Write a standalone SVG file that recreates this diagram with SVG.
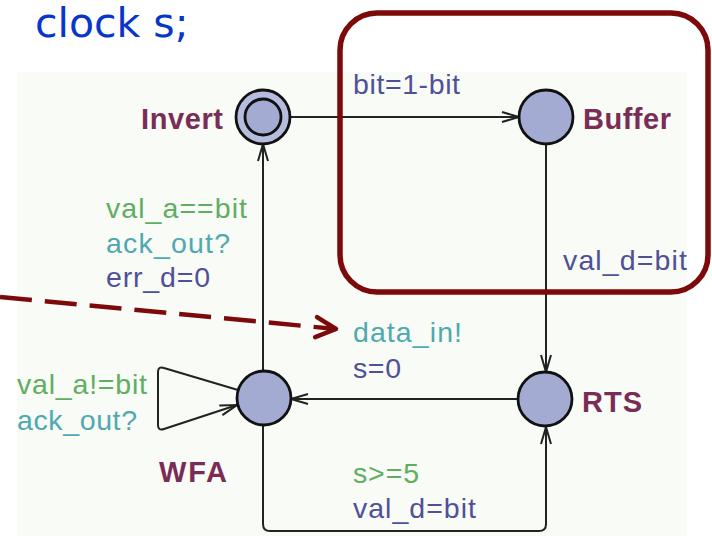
<svg xmlns="http://www.w3.org/2000/svg" width="712" height="536" viewBox="0 0 712 536">
  <style>
    .lbl { font-family: "Liberation Sans", Arial, sans-serif; font-size: 28.5px; }
    .name { font-family: "Liberation Sans", Arial, sans-serif; font-size: 29px; font-weight: bold; fill: #7a2c57; }
    .guard { fill: #5fae62; }
    .sync { fill: #4fa9b0; }
    .assign { fill: #50509a; }
    .loc { fill: #a3abd2; stroke: #111; stroke-width: 2.8; }
    .edge { fill: none; stroke: #222; stroke-width: 2; }
  </style>
  <defs>
    <marker id="open" viewBox="0 0 20 14" refX="19" refY="7" markerWidth="20" markerHeight="14" markerUnits="userSpaceOnUse" orient="auto">
      <path d="M2,2 L19,7 L2,12" fill="none" stroke="#222" stroke-width="2"/>
    </marker>
    <marker id="hint" viewBox="0 0 26 26" refX="23" refY="13" markerWidth="26" markerHeight="26" markerUnits="userSpaceOnUse" orient="auto">
      <path d="M3,3 L23,13 L3,23" fill="none" stroke="#7c0a0a" stroke-width="4.5" stroke-linecap="round" stroke-linejoin="round"/>
    </marker>
  </defs>

  <rect width="712" height="536" fill="#ffffff"/>
  <!-- automaton canvas -->
  <rect x="17" y="72" width="670" height="464" fill="#f8fbf6"/>

  <text x="35" y="37" font-family="DejaVu Sans, Verdana, sans-serif" font-size="41" fill="#0836cc">clock s;</text>

  <g id="connectors">
    <path class="edge" d="M291,117 L519,117" marker-end="url(#open)"/>
    <path class="edge" d="M546,144 L546,372" marker-end="url(#open)"/>
    <path class="edge" d="M518,399 L291,399" marker-end="url(#open)"/>
    <path class="edge" d="M263,372 L263,144" marker-end="url(#open)"/>
    <path class="edge" d="M263,425 L263,524 Q263,531 270,531 L539,531 Q546,531 546,524 L546,427" marker-end="url(#open)"/>
    <path class="edge" d="M238,390 L164,368 Q158,366 158,372 L158,425 Q158,431 164,429 L237,405" marker-end="url(#open)"/>
  </g>

  <g id="edge-labels" class="lbl">
    <text class="assign" x="353" y="94" textLength="107" lengthAdjust="spacing">bit=1-bit</text>
    <text class="assign" x="563" y="270" textLength="124" lengthAdjust="spacing">val_d=bit</text>
    <text class="guard" x="106" y="218" textLength="141" lengthAdjust="spacing">val_a==bit</text>
    <text class="sync" x="106" y="253" textLength="124" lengthAdjust="spacing">ack_out?</text>
    <text class="assign" x="106" y="287" textLength="104" lengthAdjust="spacing">err_d=0</text>
    <text class="sync" x="353" y="342" textLength="109" lengthAdjust="spacing">data_in!</text>
    <text class="assign" x="353" y="378" textLength="48" lengthAdjust="spacing">s=0</text>
    <text class="guard" x="353" y="483" textLength="66" lengthAdjust="spacing">s&gt;=5</text>
    <text class="assign" x="353" y="518" textLength="123" lengthAdjust="spacing">val_d=bit</text>
    <text class="guard" x="17" y="394" textLength="130" lengthAdjust="spacing">val_a!=bit</text>
    <text class="sync" x="17" y="430" textLength="120" lengthAdjust="spacing">ack_out?</text>
  </g>

  <g id="Invert">
    <circle class="loc" cx="263" cy="117" r="27" fill="#b6bcdd" style="fill:#b6bcdd"/>
    <circle class="loc" cx="263" cy="117" r="18"/>
    <text class="name" x="141" y="129" textLength="82" lengthAdjust="spacing">Invert</text>
  </g>
  <g id="Buffer">
    <circle class="loc" cx="546" cy="117" r="27"/>
    <text class="name" x="583" y="129" textLength="88" lengthAdjust="spacing">Buffer</text>
  </g>
  <g id="RTS">
    <circle class="loc" cx="545" cy="399" r="27"/>
    <text class="name" x="582" y="412" textLength="60" lengthAdjust="spacing">RTS</text>
  </g>
  <g id="WFA">
    <circle class="loc" cx="264" cy="398" r="27"/>
    <text class="name" x="159" y="482" textLength="68" lengthAdjust="spacing">WFA</text>
  </g>

  <!-- highlight frame and pointer -->
  <g id="highlight">
    <rect x="340" y="13" width="368" height="279" rx="37" fill="none" stroke="#7c0a0a" stroke-width="5.5"/>
  </g>
  <g id="pointer">
    <path d="M0,297 L336,329" fill="none" stroke="#7c0a0a" stroke-width="4.5" stroke-dasharray="32 13" marker-end="url(#hint)"/>
  </g>
</svg>
